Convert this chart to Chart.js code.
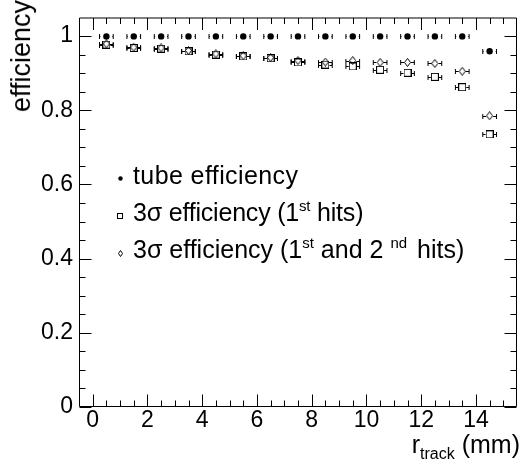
<!DOCTYPE html>
<html>
<head>
<meta charset="utf-8">
<script src="https://cdn.jsdelivr.net/npm/chart.js@4.4.1/dist/chart.umd.min.js"></script>
<style>
  html, body { margin: 0; padding: 0; background: #fff; }
  #wrap { position: relative; width: 522px; height: 465px; overflow: hidden; font-family: "Liberation Sans", Arial, sans-serif; color: #000; }
  #grafico { position: absolute; left: 0; top: 0; }
  .leg { position: absolute; left: 133px; font-size: 25px; line-height: 25px; white-space: nowrap; }
  .leg sup { font-size: 15px; line-height: 0; vertical-align: 10px; }
  #xtitle { position: absolute; right: 2px; top: 432px; font-size: 25px; line-height: 25px; white-space: nowrap; }
  #xtitle sub { font-size: 16px; line-height: 0; vertical-align: -6px; }
  #ytitle { position: absolute; right: 514px; top: 0px; font-size: 27px; line-height: 27px; white-space: nowrap;
            transform-origin: top right; transform: rotate(-90deg); }
</style>
</head>
<body>
<div id="wrap">
  <canvas id="grafico" width="522" height="465"></canvas>
  <div class="leg" style="top:163px;letter-spacing:0.4px">tube efficiency</div>
  <div class="leg" style="top:200px;letter-spacing:-0.2px">3σ efficiency (1<sup>st</sup> hits)</div>
  <div class="leg" style="top:237px">3σ efficiency (1<sup>st</sup> and 2<sup style="margin-left:7px;margin-right:3px">nd</sup> hits)</div>
  <div id="xtitle">r<sub>track</sub> (mm)</div>
  <div id="ytitle">efficiency</div>
</div>
<script>
// bins de r_track (mm)
const rTrack = [0.5, 1.5, 2.5, 3.5, 4.5, 5.5, 6.5, 7.5, 8.5, 9.5, 10.5, 11.5, 12.5, 13.5, 14.5];
const rErr = 0.25;

const tubeEff = [0.999, 0.999, 0.999, 0.999, 0.999, 0.999, 0.999, 0.999, 0.999, 0.999, 0.999, 0.999, 0.999, 0.999, 0.959];
const eff1st = [0.977, 0.968, 0.966, 0.959, 0.950, 0.945, 0.940, 0.929, 0.923, 0.918, 0.909, 0.901, 0.890, 0.862, 0.735];
const eff1st2nd = [0.979, 0.970, 0.968, 0.961, 0.952, 0.947, 0.942, 0.934, 0.930, 0.934, 0.929, 0.929, 0.926, 0.905, 0.785];

const xTicks = [0, 2, 4, 6, 8, 10, 12, 14];
const xMinor = [0.5, 1, 1.5, 2.5, 3, 3.5, 4.5, 5, 5.5, 6.5, 7, 7.5, 8.5, 9, 9.5, 10.5, 11, 11.5, 12.5, 13, 13.5, 14.5, 15];
const yTicks = [0, 0.2, 0.4, 0.6, 0.8, 1];
const yMinor = [0.05, 0.1, 0.15, 0.25, 0.3, 0.35, 0.45, 0.5, 0.55, 0.65, 0.7, 0.75, 0.85, 0.9, 0.95, 1];

// marcadores abiertos tipo ROOT
const marcaCuadro = (s) => {
    const c = document.createElement('canvas');
    c.width = s; c.height = s;
    const g = c.getContext('2d');
    g.strokeStyle = '#000';
    g.lineWidth = 1;
    g.strokeRect(0.5, 0.5, s - 1, s - 1);
    return c;
};

const marcaRombo = (w, h) => {
    const c = document.createElement('canvas');
    c.width = w; c.height = h;
    const g = c.getContext('2d');
    g.strokeStyle = '#000';
    g.lineWidth = 1;
    g.beginPath();
    g.moveTo(w / 2, 0.5);
    g.lineTo(w - 0.5, h / 2);
    g.lineTo(w / 2, h - 0.5);
    g.lineTo(0.5, h / 2);
    g.closePath();
    g.stroke();
    return c;
};

const puntos = (ys) => rTrack.map((x, i) => ({ x, y: ys[i] }));

// barras de error horizontales + marco con ticks hacia dentro
const marcoRoot = {
    id: 'marcoRoot',
    afterDatasetsDraw(chart) {
        const { ctx, chartArea: a, scales: { x, y } } = chart;
        ctx.save();
        ctx.strokeStyle = '#000';
        ctx.lineWidth = 1;

        chart.data.datasets.forEach((ds, i) => {
            const meta = chart.getDatasetMeta(i);
            meta.data.forEach((p, j) => {
                const xc = p.x, yc = Math.round(p.y) + 0.5;
                const xl = x.getPixelForValue(ds.data[j].x - rErr);
                const xr = x.getPixelForValue(ds.data[j].x + rErr);
                ctx.beginPath();
                ctx.moveTo(xl, yc); ctx.lineTo(xc - ds.gap, yc);
                ctx.moveTo(xc + ds.gap, yc); ctx.lineTo(xr, yc);
                ctx.moveTo(xl, yc - 2.5); ctx.lineTo(xl, yc + 2.5);
                ctx.moveTo(xr, yc - 2.5); ctx.lineTo(xr, yc + 2.5);
                ctx.stroke();
            });
        });

        const L = a.left + 0.5, R = a.right - 0.5, T = a.top + 0.5, B = a.bottom - 0.5;
        ctx.beginPath();
        ctx.rect(L, T, R - L, B - T);
        const tx = (v, len) => {
            const px = Math.round(x.getPixelForValue(v)) + 0.5;
            ctx.moveTo(px, B); ctx.lineTo(px, B - len);
            ctx.moveTo(px, T); ctx.lineTo(px, T + len);
        };
        const ty = (v, len) => {
            const py = Math.round(y.getPixelForValue(v)) + 0.5;
            ctx.moveTo(L, py); ctx.lineTo(L + len, py);
            ctx.moveTo(R, py); ctx.lineTo(R - len, py);
        };
        xTicks.forEach(v => tx(v, 12));
        xMinor.forEach(v => tx(v, 6));
        yTicks.forEach(v => ty(v, 12));
        yMinor.forEach(v => ty(v, 6));
        ctx.stroke();

        // marcadores de la leyenda
        ctx.fillStyle = '#000';
        ctx.beginPath();
        ctx.arc(120.5, 178.5, 2.2, 0, Math.PI * 2);
        ctx.fill();
        ctx.drawImage(marcaCuadro(6), 117, 213);
        ctx.drawImage(marcaRombo(5, 7), 118, 250);
        ctx.restore();
    }
};

const fuenteTicks = { family: 'Liberation Sans', size: 23, lineHeight: 1 };

const ejeX = {
    type: 'linear',
    min: -0.5,
    max: 15.5,
    afterBuildTicks: s => { s.ticks = xTicks.map(v => ({ value: v })); },
    afterFit: s => { s.height = 58; },
    grid: { display: false, drawTicks: false },
    border: { display: false },
    ticks: {
        color: '#000',
        autoSkip: false,
        maxRotation: 0,
        padding: 2,
        font: fuenteTicks,
        callback: v => String(v)
    }
};

const ejeY = {
    type: 'linear',
    min: 0,
    max: 1.05,
    afterBuildTicks: s => { s.ticks = yTicks.map(v => ({ value: v })); },
    afterFit: s => { s.width = 79; },
    grid: { display: false, drawTicks: false },
    border: { display: false },
    ticks: {
        color: '#000',
        padding: 6,
        font: fuenteTicks,
        callback: v => (v === 0 || v === 1) ? String(v) : v.toFixed(1)
    }
};

new Chart(document.getElementById('grafico'), {
    type: 'scatter',
    data: {
        datasets: [{
            label: 'tube efficiency',
            data: puntos(tubeEff),
            pointStyle: 'circle',
            pointRadius: 3.2,
            backgroundColor: '#000',
            borderColor: '#000',
            borderWidth: 0,
            gap: 6
        }, {
            label: '3σ efficiency (1st hits)',
            data: puntos(eff1st),
            pointStyle: marcaCuadro(8),
            gap: 4
        }, {
            label: '3σ efficiency (1st and 2nd hits)',
            data: puntos(eff1st2nd),
            pointStyle: marcaRombo(7, 9),
            gap: 3.5
        }]
    },
    options: {
        responsive: false,
        animation: false,
        devicePixelRatio: 1,
        layout: { padding: { top: 5, right: 1, left: 0, bottom: 0 } },
        plugins: { legend: { display: false }, tooltip: { enabled: false } },
        scales: { x: ejeX, y: ejeY }
    },
    plugins: [marcoRoot]
});
</script>
</body>
</html>
